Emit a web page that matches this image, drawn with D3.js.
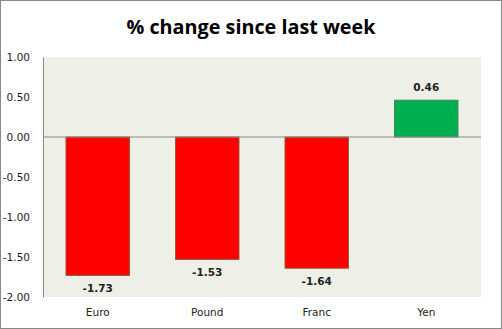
<!DOCTYPE html>
<html><head><meta charset="utf-8">
<script src="https://cdn.jsdelivr.net/npm/d3@7"></script>
<style>html,body{margin:0;padding:0;background:#fff;}svg{display:block;}</style>
</head><body>
<svg id="c" width="502" height="329"></svg>
<script>
const categories = ["Euro", "Pound", "Franc", "Yen"];
const values = [-1.73, -1.53, -1.64, 0.46];
const tickValues = [1.00, 0.50, 0.00, -0.50, -1.00, -1.50, -2.00];
const title = "% change since last week";

const fmt = d => d3.format(".2f")(d).replace("\u2212", "-");
const svg = d3.select("#c");
const W = 502, H = 329;
const m = {left: 43, right: 21, top: 57, bottom: 32};

svg.append("rect").attr("x", 0.5).attr("y", 0.5).attr("width", W - 1).attr("height", H - 1)
  .attr("fill", "#fff").attr("stroke", "#888").attr("stroke-width", 1);

const x = d3.scaleBand().domain(categories).range([m.left, W - m.right]).paddingInner(0.42).paddingOuter(0.21);
const y = d3.scaleLinear().domain([-2, 1]).range([H - m.bottom, m.top]);

svg.append("rect").attr("x", m.left).attr("y", m.top).attr("width", W - m.right - m.left)
  .attr("height", y(-2) - y(1)).attr("fill", "#EEF0E7");

svg.append("text").attr("x", W / 2).attr("y", 34).attr("text-anchor", "middle")
  .attr("font-family", "'Open Sans', sans-serif").attr("font-weight", "bold").attr("font-size", 20)
  .attr("textLength", 249).attr("lengthAdjust", "spacingAndGlyphs")
  .text(title);

const yAxis = d3.axisLeft(y).tickValues(tickValues).tickFormat(fmt).tickSize(0).tickPadding(13);
const ga = svg.append("g").attr("transform", `translate(${m.left},0)`).call(yAxis);
ga.select(".domain").attr("stroke", "#888");
ga.selectAll("text").attr("font-family", "'DejaVu Sans', Verdana, sans-serif").attr("font-size", 10.5).attr("fill", "#222");

svg.selectAll("rect.bar").data(values).join("rect").attr("class", "bar")
  .attr("x", (d, i) => x(categories[i]))
  .attr("y", d => y(Math.max(0, d)))
  .attr("width", x.bandwidth())
  .attr("height", d => Math.abs(y(d) - y(0)))
  .attr("fill", d => d < 0 ? "#FF0000" : "#00B050")
  .attr("stroke", d => d < 0 ? "#9A5A3A" : "#4E8A5A").attr("stroke-width", 1);

svg.append("line").attr("x1", m.left).attr("x2", W - m.right).attr("y1", y(0)).attr("y2", y(0))
  .attr("stroke", "#888").attr("stroke-width", 1);

svg.selectAll("text.val").data(values).join("text").attr("class", "val")
  .attr("x", (d, i) => x(categories[i]) + x.bandwidth() / 2)
  .attr("y", d => d < 0 ? y(d) + 17 : y(d) - 9)
  .attr("text-anchor", "middle")
  .attr("font-family", "'DejaVu Sans', Verdana, sans-serif").attr("font-weight", "bold").attr("font-size", 10.5)
  .attr("fill", "#222")
  .text(fmt);

svg.selectAll("text.cat").data(categories).join("text").attr("class", "cat")
  .attr("x", d => x(d) + x.bandwidth() / 2).attr("y", 316)
  .attr("text-anchor", "middle")
  .attr("font-family", "'DejaVu Sans', Verdana, sans-serif").attr("font-size", 10.5).attr("fill", "#222")
  .text(d => d);
</script>
</body></html>
